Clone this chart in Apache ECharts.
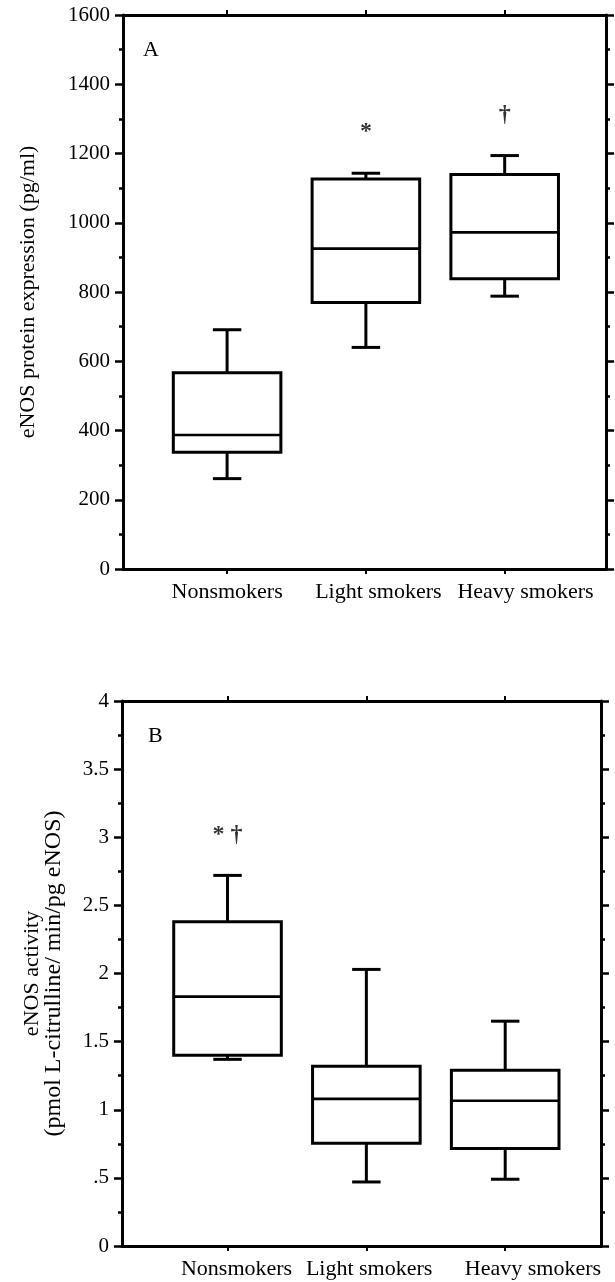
<!DOCTYPE html>
<html>
<head>
<meta charset="utf-8">
<script src="https://cdn.jsdelivr.net/npm/echarts@6/dist/echarts.min.js"></script>
<style>
html,body{margin:0;padding:0;background:#fff;}
#chart{width:615px;height:1282px;}
</style>
</head>
<body>
<div id="chart"></div>
<script>
// ---- data ----
const categories = ['Nonsmokers', 'Light smokers', 'Heavy smokers'];
const groupPos = [1, 2, 3];

// Panel A: eNOS protein expression (pg/ml)
const aMin = [261, 640, 788];
const aQ1  = [337, 770, 838];
const aMed = [387, 925, 972];
const aQ3  = [567, 1126, 1139];
const aMax = [691, 1143, 1194];
const aNotes = [['*', 2, 1262], ['\u2020', 3, 1312]];
const aTicks = ['0', '200', '400', '600', '800', '1000', '1200', '1400', '1600'];

// Panel B: eNOS activity (pmol L-citrulline/ min/pg eNOS)
const bMin = [1.37, 0.47, 0.49];
const bQ1  = [1.40, 0.755, 0.716];
const bMed = [1.83, 1.08, 1.066];
const bQ3  = [2.38, 1.32, 1.29];
const bMax = [2.72, 2.03, 1.65];
const bNotes = [['* \u2020', 1, 3.02]];
const bTicks = ['0', '.5', '1', '1.5', '2', '2.5', '3', '3.5', '4'];

// ---- layout ----
const FONT = 'Liberation Serif';
const BOX_W = 0.775;   // box width in x-axis units
const CAP_W = 0.205;   // whisker cap width in x-axis units
const labelPosA = [1, 2.09, 3.15];
const labelPosB = [1.065, 2.02, 3.2];

function rows(mn, q1, md, q3, mx) {
  return groupPos.map((p, i) => [p, mn[i], q1[i], md[i], q3[i], mx[i]]);
}

function renderBox(params, api) {
  const x = api.value(0);
  const pMin = api.coord([x, api.value(1)]);
  const pQ1 = api.coord([x, api.value(2)]);
  const pMed = api.coord([x, api.value(3)]);
  const pQ3 = api.coord([x, api.value(4)]);
  const pMax = api.coord([x, api.value(5)]);
  const hw = api.size([BOX_W, 0])[0] / 2;
  const cw = api.size([CAP_W, 0])[0] / 2;
  const cx = pMed[0];
  const st = {stroke: '#000', lineWidth: 3, fill: null};
  return {
    type: 'group',
    children: [
      {type: 'line', shape: {x1: cx, y1: pMin[1], x2: cx, y2: pQ1[1]}, style: st},
      {type: 'line', shape: {x1: cx - cw, y1: pMin[1], x2: cx + cw, y2: pMin[1]}, style: st},
      {type: 'line', shape: {x1: cx, y1: pMax[1], x2: cx, y2: pQ3[1]}, style: st},
      {type: 'line', shape: {x1: cx - cw, y1: pMax[1], x2: cx + cw, y2: pMax[1]}, style: st},
      {type: 'rect', shape: {x: cx - hw, y: pQ3[1], width: hw * 2, height: pQ1[1] - pQ3[1]},
        style: {stroke: '#000', lineWidth: 3, fill: '#fff'}},
      {type: 'line', shape: {x1: cx - hw, y1: pMed[1], x2: cx + hw, y2: pMed[1]},
        style: {stroke: '#000', lineWidth: 2.7}}
    ]
  };
}

function xAxes(gi, min, max, labelPos, withLabels, pos, margin) {
  return {
    type: 'value', gridIndex: gi, min: min, max: max, position: pos,
    splitLine: {show: false},
    axisLine: {show: true, onZero: false, lineStyle: {color: '#000', width: 3}},
    axisTick: {show: true, customValues: groupPos, length: 5, lineStyle: {color: '#000', width: 2}},
    axisLabel: {
      show: withLabels, customValues: labelPos, margin: margin,
      formatter: (v, i) => {
        const k = labelPos.findIndex(p => Math.abs(p - v) < 1e-6);
        return categories[k >= 0 ? k : i];
      },
      fontFamily: FONT, fontSize: 22, color: '#000'
    }
  };
}

function yAxes(gi, max, interval, ticks, withLabels, pos, name, nameGap, rich) {
  return {
    type: 'value', gridIndex: gi, min: 0, max: max, interval: interval, position: pos,
    splitLine: {show: false},
    axisLine: {show: true, lineStyle: {color: '#000', width: 3}},
    axisTick: {show: true, length: 8, lineStyle: {color: '#000', width: 2.5}},
    minorTick: {show: true, splitNumber: 2, length: 4, lineStyle: {color: '#000', width: 2.5}},
    axisLabel: {
      show: withLabels, margin: 13,
      formatter: (v) => ticks[Math.round(v / interval)],
      fontFamily: FONT, fontSize: 21, color: '#000'
    },
    name: name, nameLocation: 'middle', nameGap: nameGap, nameRotate: 90,
    nameTextStyle: {fontFamily: FONT, fontSize: 22, color: '#000', lineHeight: 21, align: 'center',
      rich: rich || {}}
  };
}

const richB = {
  a: {fontFamily: FONT, fontSize: 22, lineHeight: 21, color: '#000'},
  b: {fontFamily: FONT, fontSize: 24, lineHeight: 22, color: '#000'}
};

const chart = echarts.init(document.getElementById('chart'), null, {renderer: 'canvas'});
chart.setOption({
  backgroundColor: '#fff',
  animation: false,
  grid: [
    {left: 123, top: 15, width: 483, height: 554},
    {left: 122, top: 701, width: 479, height: 545}
  ],
  xAxis: [
    xAxes(0, 0.25, 3.73, labelPosA, true, 'bottom', 12),
    xAxes(0, 0.25, 3.73, labelPosA, false, 'top', 12),
    xAxes(1, 0.24, 3.69, labelPosB, true, 'bottom', 12),
    xAxes(1, 0.24, 3.69, labelPosB, false, 'top', 12)
  ],
  yAxis: [
    yAxes(0, 1600, 200, aTicks, true, 'left', 'eNOS protein expression (pg/ml)', 84),
    yAxes(0, 1600, 200, aTicks, false, 'right', '', 0),
    yAxes(1, 4, 0.5, bTicks, true, 'left', '{a|eNOS activity}\n{b|(pmol L-citrulline/ min/pg eNOS)}', 57, richB),
    yAxes(1, 4, 0.5, bTicks, false, 'right', '', 0)
  ],
  graphic: [
    {type: 'text', left: 143, top: 39, style: {text: 'A', font: '22px "Liberation Serif"', fill: '#000'}},
    {type: 'text', left: 148, top: 725, style: {text: 'B', font: '22px "Liberation Serif"', fill: '#000'}}
  ],
  series: [
    {type: 'custom', xAxisIndex: 0, yAxisIndex: 0, renderItem: renderBox,
      data: rows(aMin, aQ1, aMed, aQ3, aMax), encode: {x: 0, y: [1, 2, 3, 4, 5]}},
    {type: 'custom', xAxisIndex: 2, yAxisIndex: 2, renderItem: renderBox,
      data: rows(bMin, bQ1, bMed, bQ3, bMax), encode: {x: 0, y: [1, 2, 3, 4, 5]}},
    {type: 'scatter', xAxisIndex: 0, yAxisIndex: 0, symbolSize: 0,
      data: aNotes.map(n => ({value: [n[1], n[2]], name: n[0]})),
      label: {show: true, position: 'inside', formatter: p => p.name,
        fontFamily: FONT, fontSize: 24, fontWeight: 'bold', color: '#000'}},
    {type: 'scatter', xAxisIndex: 2, yAxisIndex: 2, symbolSize: 0,
      data: bNotes.map(n => ({value: [n[1], n[2]], name: n[0]})),
      label: {show: true, position: 'inside', formatter: p => p.name,
        fontFamily: FONT, fontSize: 24, fontWeight: 'bold', color: '#000'}}
  ]
});
</script>
</body>
</html>
